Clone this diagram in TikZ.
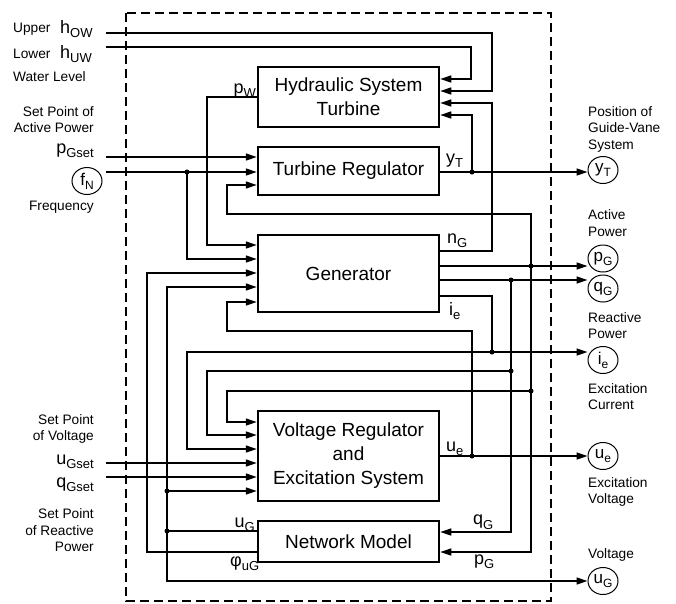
\documentclass[tikz,border=0pt]{standalone}
\usepackage{fontspec}
\setmainfont{Liberation Sans}
\usetikzlibrary{arrows.meta,shapes.geometric}
\newcommand{\vs}[2]{{\fontsize{18}{18}\selectfont #1}\raisebox{-4.5pt}{\fontsize{13}{13}\selectfont #2}}
\newcommand{\vsc}[2]{{\fontsize{17}{17}\selectfont #1}\raisebox{-4pt}{\fontsize{12}{12}\selectfont #2}}
\begin{document}
\begin{tikzpicture}[x=1pt,y=-1pt,
  conn/.style={line width=1.4pt},
  arr/.style={conn,-{Triangle[length=11pt,width=7pt]}},
  blk/.style={draw,line width=2.5pt,minimum width=181pt,inner sep=0pt,
    font=\fontsize{19}{24}\selectfont,align=center},
  dot/.style={circle,fill,inner sep=0pt,minimum size=5pt},
  outc/.style={ellipse,draw,line width=1pt,minimum width=30pt,minimum height=27pt,inner sep=0pt},
  desc/.style={font=\fontsize{13.7}{16.5}\selectfont,inner sep=0pt},
  var/.style={inner sep=0pt}
]
\useasboundingbox (0,0) rectangle (676,603);
% frame
\draw[line width=2.2pt,dash pattern=on 9pt off 5pt] (126,13) rectangle (551,601);
% blocks
\node[blk,minimum height=60pt] (hyd) at (348.5,97) {Hydraulic System\\Turbine};
\node[blk,minimum height=48pt] (trb) at (348.5,171) {Turbine Regulator};
\node[blk,minimum height=77pt] (gen) at (348.5,273.5) {Generator};
\node[blk,minimum height=90pt] (vr) at (348.5,456) {Voltage Regulator\\and\\Excitation System};
\node[blk,minimum height=41pt] (net) at (348.5,541.5) {Network Model};
% output circles
\node[outc] (oyT) at (603,170) {\vsc{y}{T}};
\node[outc] (opG) at (603,258.5) {\vsc{p}{G}};
\node[outc] (oqG) at (603,288.5) {\vsc{q}{G}};
\node[outc] (oie) at (603,360) {\vsc{i}{e}};
\node[outc] (oue) at (603,456) {\vsc{u}{e}};
\node[outc] (ouG) at (603,581) {\vsc{u}{G}};
\node[outc] (fN) at (87,181) {\vsc{f}{N}};
% input ends
\coordinate (inOW) at (106,33);
\coordinate (inUW) at (106,47);
\coordinate (inPG) at (106,157);
\coordinate (inFN) at (106,172);
\coordinate (inUGs) at (106,463);
\coordinate (inQGs) at (106,477);
% junctions
\coordinate (jyT) at (472,172);
\coordinate (jfN) at (187,172);
\coordinate (jpG) at (531,266);
\coordinate (jpG2) at (531,391);
\coordinate (jqG) at (511,280);
\coordinate (jqG2) at (511,371);
\coordinate (jie) at (492,352);
\coordinate (jue) at (472,456);
\coordinate (juG) at (167,531);
\coordinate (juG2) at (167,491);
% connectors
\draw[arr] (inOW) -| (492,91) -- (hyd.east |- 0,91);
\draw[arr] (inUW) -| (471,79) -- (hyd.east |- 0,79);
\draw[arr] (gen.east |- 0,251) -| (492,103) -- (hyd.east |- 0,103);
\draw[arr] (trb.east |- jyT) -- (oyT.west |- jyT);
\draw[arr] (jyT) -- (472,115) -- (hyd.east |- 0,115);
\draw[arr] (hyd.west |- 0,97) -| (207,245) -- (gen.west |- 0,245);
\draw[arr] (inPG) -- (trb.west |- inPG);
\draw[arr] (inFN) -- (trb.west |- inFN);
\draw[arr] (jfN) |- (gen.west |- 0,259);
\draw[arr] (jpG) |- (227,214) |- (trb.west |- 0,185);
\draw[arr] (jpG) |- (net.east |- 0,552);
\draw[arr] (gen.east |- jpG) -- (opG.west |- jpG);
\draw[arr] (gen.east |- jqG) -- (oqG.west |- jqG);
\draw[arr] (jqG) |- (net.east |- 0,532);
\draw[conn] (gen.east |- 0,296) -| (jie);
\draw[arr] (jie) -- (oie.west |- jie);
\draw[arr] (jie) -| (187,449) -- (vr.west |- 0,449);
\draw[arr] (vr.east |- jue) -- (oue.west |- jue);
\draw[arr] (jue) |- (227,331) |- (gen.west |- 0,302);
\draw[arr] (jqG2) -| (207,435) -- (vr.west |- 0,435);
\draw[arr] (jpG2) -| (227,422) -- (vr.west |- 0,422);
\draw[arr] (inUGs) -- (vr.west |- inUGs);
\draw[arr] (inQGs) -- (vr.west |- inQGs);
\draw[conn] (net.west |- juG) -- (juG);
\draw[arr] (juG) |- (gen.west |- 0,287);
\draw[arr] (juG2) -- (vr.west |- juG2);
\draw[arr] (juG) |- (ouG.west |- 0,581);
\draw[arr] (net.west |- 0,552) -| (147,273) -- (gen.west |- 0,273);
% dots
\node[dot] (d1) at (jyT) {};
\node[dot] (d2) at (jfN) {};
\node[dot] (d3) at (jpG) {};
\node[dot] (d4) at (jpG2) {};
\node[dot] (d5) at (jqG) {};
\node[dot] (d6) at (jqG2) {};
\node[dot] (d7) at (jie) {};
\node[dot] (d8) at (jue) {};
\node[dot] (d9) at (juG) {};
\node[dot] (d10) at (juG2) {};
% inner labels
\node[var,anchor=base east] (lpW) at (256,93) {\vs{p}{W}};
\node[var,anchor=base west] (lyT) at (446,163) {\vs{y}{T}};
\node[var,anchor=base west] (lnG) at (447,243) {\vs{n}{G}};
\node[var,anchor=base west] (lie) at (449,315) {\vs{i}{e}};
\node[var,anchor=base west] (lue) at (446,451) {\vs{u}{e}};
\node[var,anchor=base west] (lqG) at (473,524.5) {\vs{q}{G}};
\node[var,anchor=base west] (lpG) at (474,564) {\vs{p}{G}};
\node[var,anchor=base east] (luG) at (255,527) {\vs{u}{G}};
\node[var,anchor=base west] (lphi) at (230,566) {\vs{φ}{uG}};
% left labels
\node[desc,anchor=base west] (t1) at (13,32) {Upper};
\node[var,anchor=base west] (v1) at (60,33) {\vs{h}{OW}};
\node[desc,anchor=base west] (t2) at (13,58) {Lower};
\node[var,anchor=base west] (v2) at (60,58) {\vs{h}{UW}};
\node[desc,anchor=base west] (t3) at (13,81) {Water Level};
\node[desc,anchor=base east] (t4) at (94,116) {Set Point of};
\node[desc,anchor=base east] (t5) at (94,132) {Active Power};
\node[var,anchor=base east] (v3) at (94,153) {\vs{p}{Gset}};
\node[desc,anchor=base east] (t6) at (94,210) {Frequency};
\node[desc,anchor=base east] (t7) at (94,424) {Set Point};
\node[desc,anchor=base east] (t8) at (94,440) {of Voltage};
\node[var,anchor=base east] (v4) at (94,464) {\vs{u}{Gset}};
\node[var,anchor=base east] (v5) at (94,487) {\vs{q}{Gset}};
\node[desc,anchor=base east] (t9) at (94,518) {Set Point};
\node[desc,anchor=base east] (t10) at (94,535) {of Reactive};
\node[desc,anchor=base east] (t11) at (94,551) {Power};
% right labels
\node[desc,anchor=base west] (r1) at (588,116) {Position of};
\node[desc,anchor=base west] (r2) at (588,132.5) {Guide-Vane};
\node[desc,anchor=base west] (r3) at (588,149) {System};
\node[desc,anchor=base west] (r4) at (588,219) {Active};
\node[desc,anchor=base west] (r5) at (588,236) {Power};
\node[desc,anchor=base west] (r6) at (588,322) {Reactive};
\node[desc,anchor=base west] (r7) at (588,338) {Power};
\node[desc,anchor=base west] (r8) at (588,393) {Excitation};
\node[desc,anchor=base west] (r9) at (588,409) {Current};
\node[desc,anchor=base west] (r10) at (588,487) {Excitation};
\node[desc,anchor=base west] (r11) at (588,503) {Voltage};
\node[desc,anchor=base west] (r12) at (588,558) {Voltage};
\end{tikzpicture}
\end{document}
